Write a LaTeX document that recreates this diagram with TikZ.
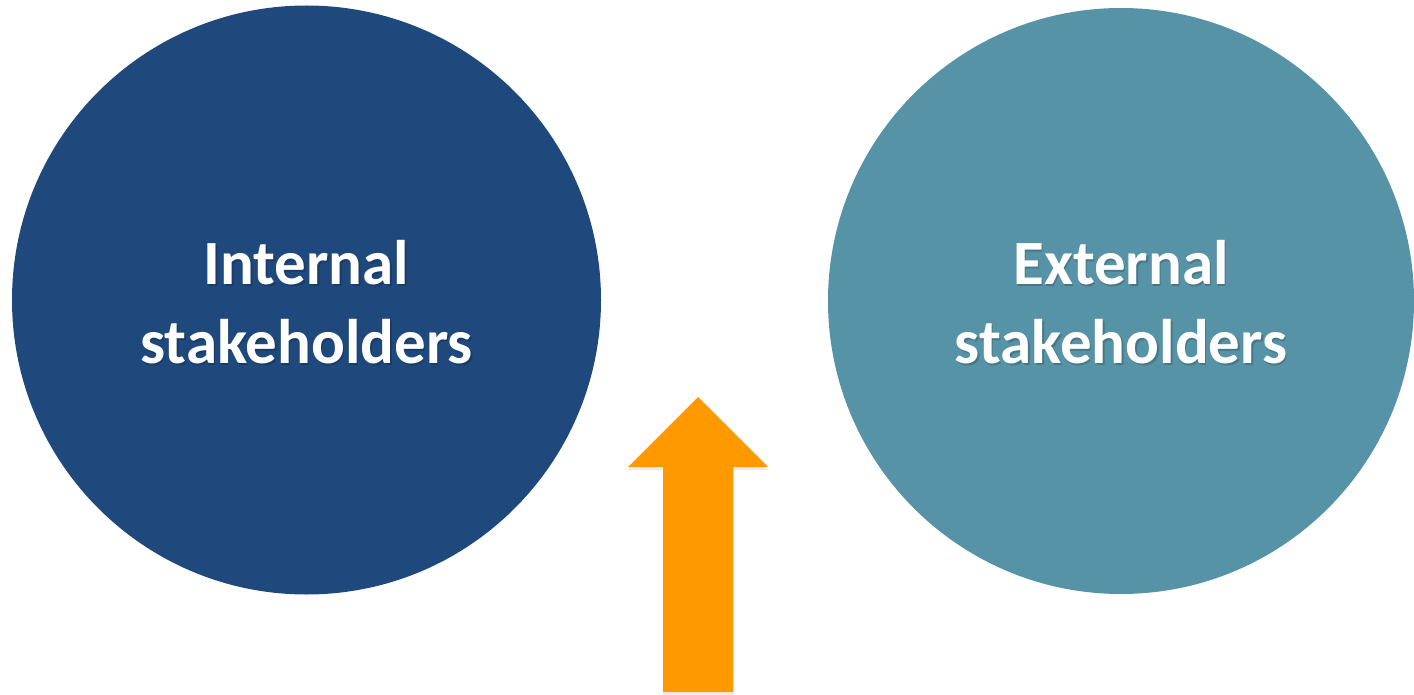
\documentclass[tikz,border=0pt]{standalone}
\usepackage{fontspec}
\setmainfont{Carlito}
\definecolor{darkblue}{RGB}{31,73,125}
\definecolor{tealblue}{RGB}{87,147,166}
\definecolor{arroworange}{RGB}{255,153,0}
\tikzset{
  labelfont/.style={font=\fontsize{63}{79}\selectfont\bfseries, align=center},
  bigcircle/.style={circle, inner sep=0pt, minimum size=#1, labelfont, text=white},
  textshadow/.style={labelfont, text=black, opacity=0.18},
}
\begin{document}
\begin{tikzpicture}[x=1pt,y=-1pt]
\useasboundingbox (0,0) rectangle (1414,695);
% left circle
\fill[darkblue] (306.5,300) circle (294.5);
\node[textshadow] (ints) at (308,304) {Internal\\stakeholders};
\node[bigcircle=589pt] (int) at (306.5,302) {Internal\\stakeholders};
% right circle
\fill[tealblue] (1121,301) circle (293);
\node[textshadow] (exts) at (1122.5,304) {External\\stakeholders};
\node[bigcircle=586pt] (ext) at (1121,302) {External\\stakeholders};
% arrow shadow
\fill[black, opacity=0.08] (697,399) -- (768,470) -- (734,470) -- (734,695) -- (663,695) -- (663,470) -- (627,470) -- cycle;
% arrow
\fill[arroworange] (698,397) -- (768,467) -- (733,467) -- (733,692) -- (663,692) -- (663,467) -- (628,467) -- cycle;
\end{tikzpicture}
\end{document}
